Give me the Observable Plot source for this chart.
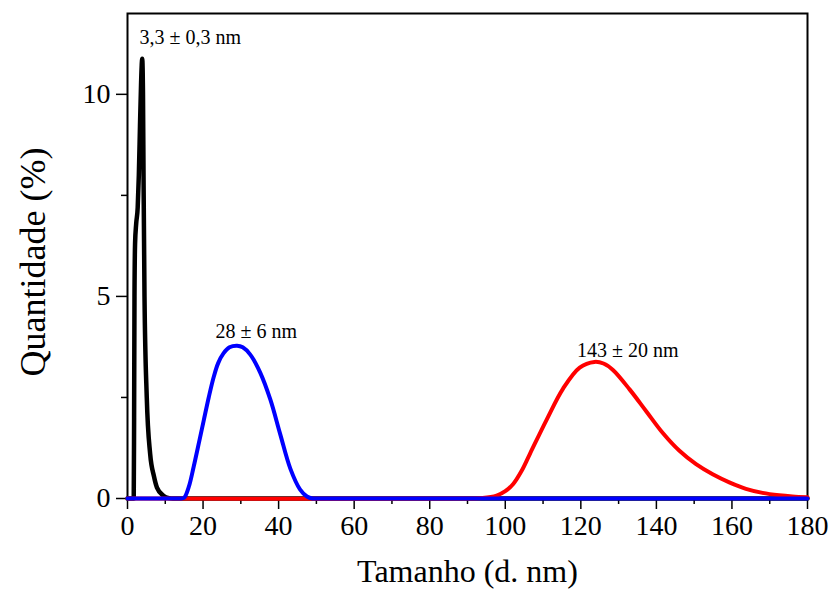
<!DOCTYPE html>
<html>
<head>
<meta charset="utf-8">
<script src="https://cdn.jsdelivr.net/npm/d3@7"></script>
<script src="https://cdn.jsdelivr.net/npm/@observablehq/plot@0.6"></script>
<style>
  html, body { margin: 0; padding: 0; background: #fff; }
  #chart svg { display: block; }
  #chart svg, #chart svg text { font-family: "Liberation Serif", "Times New Roman", serif !important; }
</style>
</head>
<body>
<div id="chart"></div>
<script>
// Size distributions by number (DLS), size in nm vs. percentage
const smallSize = [0, 1.5, 1.65, 1.75, 1.85, 2.0, 2.3, 2.7, 3.0, 3.3, 3.6, 3.9, 4.1, 4.25, 4.5, 5.1, 6.0, 7.0, 7.8, 9.5, 11, 12, 180];
const smallPct  = [0, 0, 0, 2.0, 5.0, 6.3, 6.8, 7.2, 8.0, 9.2, 10.3, 10.88, 10.0, 7.9, 5.0, 2.5, 1.1, 0.55, 0.27, 0.07, 0.01, 0, 0];

const midSize = [0, 13, 14, 15, 16.2, 17.5, 19, 20.2, 21.5, 22.8, 24, 25.4, 27, 29, 30.5, 32.5, 35.1, 37.8, 40.4, 43.1, 45.7, 47.5, 49, 50, 180];
const midPct  = [0, 0, 0, 0.02, 0.28, 0.78, 1.42, 1.94, 2.5, 3.0, 3.35, 3.59, 3.74, 3.78, 3.74, 3.56, 3.12, 2.45, 1.6, 0.74, 0.22, 0.05, 0, 0, 0];

const largeSize = [0, 90, 94, 97.7, 100, 102.1, 104.3, 106.5, 110.9, 115.3, 119.7, 123.6, 126, 128.5, 132.9, 137.3, 141.7, 146.1, 150.5, 154.9, 159.3, 163.7, 168.1, 172.5, 176, 180];
const largePct  = [0, 0, 0.01, 0.07, 0.18, 0.36, 0.68, 1.1, 1.94, 2.72, 3.24, 3.38, 3.34, 3.18, 2.7, 2.16, 1.62, 1.18, 0.85, 0.6, 0.4, 0.24, 0.14, 0.08, 0.05, 0.03];

// Peak annotations: text, position (nm, %)
const peakLabels = ["3,3 ± 0,3 nm", "28 ± 6 nm", "143 ± 20 nm"];
const peakX = [3.2, 34.1, 132.4];
const peakY = [11.4, 4.12, 3.67];

const xMajor = [0, 20, 40, 60, 80, 100, 120, 140, 160, 180];
const xMinor = [10, 30, 50, 70, 90, 110, 130, 150, 170];
const yMajor = [0, 5, 10];
const yMinor = [2.5, 7.5];

const toRows = (xs, ys) => xs.map((x, i) => ({x, y: ys[i]}));
const small = toRows(smallSize, smallPct);
const mid = toRows(midSize, midPct);
const large = toRows(largeSize, largePct);
const labels = peakLabels.map((t, i) => ({t, x: peakX[i], y: peakY[i]}));

const font = "Liberation Serif";

const chart = Plot.plot({
  width: 832,
  height: 603,
  marginLeft: 127,
  marginRight: 25,
  marginTop: 13,
  marginBottom: 105,
  style: {fontFamily: font, background: "#fff", color: "#000"},
  x: {domain: [0, 180]},
  y: {domain: [0, 12]},
  marks: [
    Plot.frame({stroke: "#000", strokeWidth: 2}),
    Plot.axisX(xMajor, {tickSize: 11, tickPadding: 6, fontSize: 28, tickFormat: d => d, label: null, strokeWidth: 1.5}),
    Plot.axisX(xMinor, {tickSize: 6, text: null, label: null, strokeWidth: 1.5}),
    Plot.axisY(yMajor, {tickSize: 11, tickPadding: 6, fontSize: 28, tickFormat: d => d, label: null, strokeWidth: 1.5}),
    Plot.axisY(yMinor, {tickSize: 6, text: null, label: null, strokeWidth: 1.5}),
    Plot.line(small, {x: "x", y: "y", stroke: "#000", strokeWidth: 4.5, curve: "monotone-x"}),
    Plot.line(large, {x: "x", y: "y", stroke: "#ff0000", strokeWidth: 4, curve: "catmull-rom"}),
    Plot.line(mid, {x: "x", y: "y", stroke: "#0000ff", strokeWidth: 4, curve: "catmull-rom"}),
    Plot.text(labels.slice(0, 1), {x: "x", y: "y", text: "t", textAnchor: "start", fontSize: 20, fontFamily: font, fill: "#000"}),
    Plot.text(labels.slice(1), {x: "x", y: "y", text: "t", textAnchor: "middle", fontSize: 20, fontFamily: font, fill: "#000"}),
    Plot.text(["Tamanho (d. nm)"], {frameAnchor: "bottom", textAnchor: "middle", dy: 83, fontSize: 32, fontFamily: font, fill: "#000"}),
    Plot.text(["Quantidade (%)"], {frameAnchor: "left", textAnchor: "middle", dx: -94, dy: 6, rotate: -90, fontSize: 36, fontFamily: font, fill: "#000"})
  ]
});

document.getElementById("chart").appendChild(chart);
</script>
</body>
</html>
